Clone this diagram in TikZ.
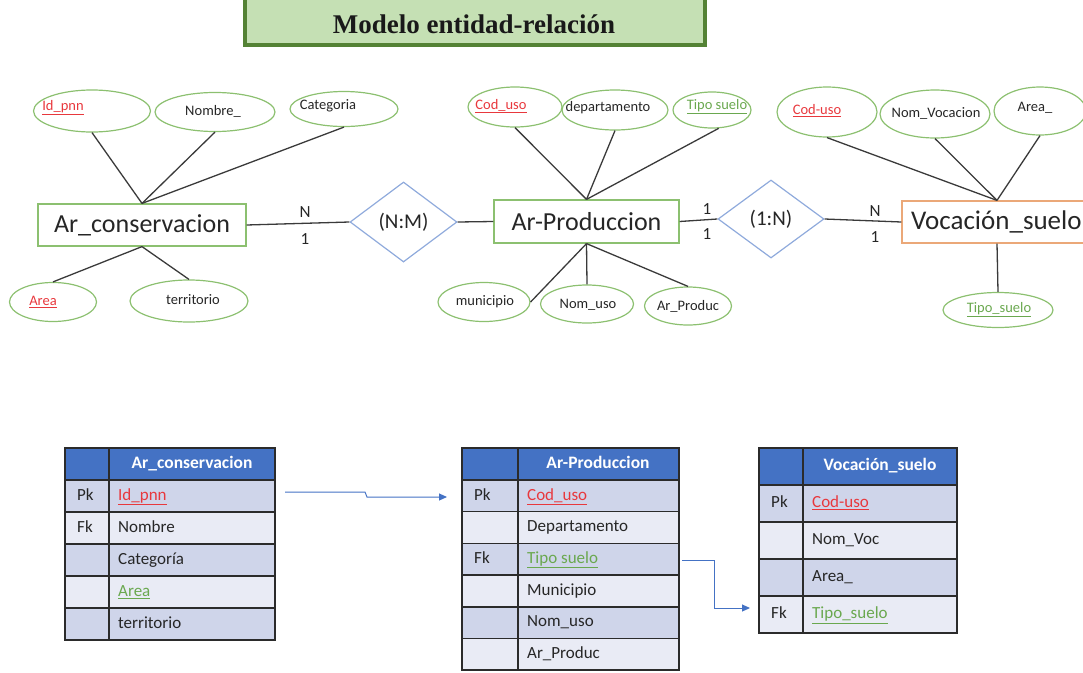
\documentclass[tikz,border=0pt]{standalone}
\usepackage{fontspec}
\setmainfont{Carlito}
\newfontfamily\titlefont{Liberation Serif}
\usetikzlibrary{shapes.geometric,arrows.meta}
\definecolor{attrc}{HTML}{8CC070}
\definecolor{entc}{HTML}{8CC070}
\definecolor{relc}{HTML}{8FAADC}
\definecolor{orc}{HTML}{EBA878}
\definecolor{linec}{HTML}{3A3A3A}
\definecolor{redt}{HTML}{E8383D}
\definecolor{greent}{HTML}{6AA84F}
\definecolor{hdr}{HTML}{4472C4}
\definecolor{rowd}{HTML}{CFD5EA}
\definecolor{rowl}{HTML}{E9EBF5}
\definecolor{tabc}{HTML}{2B2B2B}
\definecolor{arrc}{HTML}{4472C4}
\definecolor{titfill}{HTML}{C5E0B4}
\definecolor{titdraw}{HTML}{548235}
\newcommand{\rk}[1]{\textcolor{redt}{\underline{#1}}}
\newcommand{\gk}[1]{\textcolor{greent}{\underline{#1}}}
\newcommand{\trow}[9]{%
  \path[cellbox, fill=#7] (#2,#5) rectangle (#3,#5+#6);
  \path[cellbox, fill=#7] (#3,#5) rectangle (#4,#5+#6);
  \node[ctext] (#1k) at (#2+12,#5+#6/2) {#8};
  \node[ctext] (#1f) at (#3+9,#5+#6/2) {#9};
}
\begin{document}
\begin{tikzpicture}[x=1pt,y=-1pt,
  attr/.style={ellipse, draw=attrc, line width=1.2pt, inner sep=0pt},
  atxt/.style={font=\fontsize{14.5}{16}\selectfont, text=black!85, inner sep=0pt},
  ent/.style={rectangle, draw=entc, line width=1.2pt, inner sep=0pt, font=\fontsize{26}{30}\selectfont, text=black!85},
  rel/.style={diamond, draw=relc, line width=1.2pt, inner sep=0pt, font=\fontsize{21}{24}\selectfont, text=black!85},
  link/.style={draw=linec, line width=1.3pt},
  card/.style={font=\fontsize{17}{19}\selectfont, inner sep=0pt, text=black!85},
  cellbox/.style={draw=tabc, line width=1.5pt},
  ctext/.style={font=\fontsize{17}{19}\selectfont, inner sep=0pt, anchor=west, text height=12pt, text depth=3.5pt, text=black!85},
  htext/.style={font=\fontsize{17.5}{19}\selectfont\bfseries, inner sep=0pt, text=white, text height=12pt, text depth=3.5pt},
  fkarrow/.style={draw=arrc, line width=1pt, -{Triangle[length=8pt,width=7pt]}}
]
\useasboundingbox (0,0) rectangle (1083,672);
\clip (0,0) rectangle (1083,672);

% title
\node[draw=titdraw, fill=titfill, line width=3.5pt, minimum width=460pt, minimum height=52pt, inner sep=0pt] (titlebox) at (475,19) {};
\node[font=\titlefont\bfseries\fontsize{27}{30}\selectfont, text=black!90, inner sep=0pt] (title) at (474,24) {Modelo entidad-relación};

% entities
\node[ent, minimum width=208pt, minimum height=42pt] (arcons) at (142,225) {Ar\_conservacion};
\node[ent, minimum width=185pt, minimum height=43pt] (arprod) at (586.5,221.5) {Ar-Produccion};
\node[ent, draw=orc, minimum width=190pt, minimum height=42pt, text width=172pt, align=left, font=\fontsize{27}{30}\selectfont] (voc) at (997,222) {Vocación\_suelo};

% relations
\node[rel, minimum width=107pt, minimum height=80pt] (nm) at (403.5,222) {(N:M)};
\node[rel, minimum width=106pt, minimum height=78pt] (on) at (771,219) {(1:N)};

\draw[link] (arcons.east) -- (nm.west);
\draw[link] (nm.east) -- (arprod.west);
\draw[link] (arprod.east) -- (on.west);
\draw[link] (on.east) -- (voc.west);

\node[card] (c1) at (305,212) {N};
\node[card] (c2) at (305,239) {1};
\node[card] (c3) at (707,209) {1};
\node[card] (c4) at (707,234) {1};
\node[card] (c5) at (875,211) {N};
\node[card] (c6) at (875,237) {1};

% attributes Ar_conservacion
\node[attr, minimum width=117pt, minimum height=42pt] (idpnn) at (92,111) {};
\node[atxt] (idpnnt) at (63,108) {\rk{Id\_pnn}};
\node[attr, minimum width=120pt, minimum height=39pt] (nombre) at (215,112) {};
\node[atxt] (nombret) at (213,111) {Nombre\_};
\node[attr, minimum width=108pt, minimum height=35pt] (cat) at (344,109) {};
\node[atxt] (catt) at (328,106) {Categoria};
\node[attr, minimum width=87pt, minimum height=39pt] (area) at (53,302) {};
\node[atxt] (areat) at (43,302) {\rk{Area}};
\node[attr, minimum width=118pt, minimum height=42pt] (terr) at (189,301) {};
\node[atxt] (terrt) at (193,300) {territorio};
\draw[link] (idpnn.south) -- (arcons.north);
\draw[link] (nombre.south) -- (arcons.north);
\draw[link] (cat.south) -- (arcons.north);
\draw[link] (arcons.south) -- (area.north);
\draw[link] (arcons.south) -- (terr.north);

% attributes Ar-Produccion
\node[attr, minimum width=94pt, minimum height=40pt] (coduso) at (515,107) {};
\node[atxt] (codusot) at (501,106) {\rk{Cod\_uso}};
\node[attr, minimum width=106pt, minimum height=40pt] (depto) at (615,110) {};
\node[atxt] (deptot) at (608,108) {departamento};
\node[attr, minimum width=78pt, minimum height=36pt] (tipo) at (712,110) {};
\node[atxt] (tipot) at (717,107) {\gk{Tipo suelo}};
\node[attr, minimum width=92pt, minimum height=39pt] (mun) at (484,302) {};
\node[atxt] (munt) at (485,302) {municipio};
\node[attr, minimum width=93pt, minimum height=38pt] (nomuso) at (587,304) {};
\node[atxt] (nomusot) at (588,305) {Nom\_uso};
\node[attr, minimum width=87pt, minimum height=38pt] (arproduc) at (688,306) {};
\node[atxt] (arproduct) at (688,306) {Ar\_Produc};
\draw[link] (coduso.south) -- (arprod.north);
\draw[link] (depto.south) -- (arprod.north);
\draw[link] (tipo.-70) -- (arprod.north);
\draw[link] (arprod.south) -- (mun.east);
\draw[link] (arprod.south) -- (nomuso.north);
\draw[link] (arprod.south) -- (arproduc.north);

% attributes Vocacion_suelo
\node[attr, minimum width=100pt, minimum height=50pt] (codusov) at (827,112) {};
\node[atxt] (codusovt) at (817,111) {\rk{Cod-uso}};
\node[attr, minimum width=110pt, minimum height=48pt] (nomvoc) at (935,114) {};
\node[atxt] (nomvoct) at (936,113) {Nom\_Vocacion};
\node[attr, minimum width=92pt, minimum height=48pt] (areav) at (1040,111) {};
\node[atxt] (areavt) at (1035,108) {Area\_};
\node[attr, minimum width=110pt, minimum height=35pt] (tiposv) at (998,310) {};
\node[atxt] (tiposvt) at (999,310) {\gk{Tipo\_suelo}};
\draw[link] (codusov.south) -- (voc.north);
\draw[link] (nomvoc.south) -- (voc.north);
\draw[link] (areav.south) -- (voc.north);
\draw[link] (voc.south) -- (tiposv.north);

% table 1
\path[cellbox, fill=hdr] (65,448) rectangle (109,480);
\path[cellbox, fill=hdr] (109,448) rectangle (275,480);
\node[htext] (t1h) at (192,464) {Ar\_conservacion};
\trow{t1a}{65}{109}{275}{480}{32}{rowd}{Pk}{\rk{Id\_pnn}}
\trow{t1b}{65}{109}{275}{512}{32}{rowl}{Fk}{Nombre}
\trow{t1c}{65}{109}{275}{544}{32}{rowd}{}{Categoría}
\trow{t1d}{65}{109}{275}{576}{32}{rowl}{}{\gk{Area}}
\trow{t1e}{65}{109}{275}{608}{32}{rowd}{}{territorio}

% table 2
\path[cellbox, fill=hdr] (462,448) rectangle (518,480);
\path[cellbox, fill=hdr] (518,448) rectangle (679,480);
\node[htext] (t2h) at (598,464) {Ar-Produccion};
\trow{t2a}{462}{518}{679}{480}{31.7}{rowd}{Pk}{\rk{Cod\_uso}}
\trow{t2b}{462}{518}{679}{511.7}{31.7}{rowl}{}{Departamento}
\trow{t2c}{462}{518}{679}{543.4}{31.7}{rowd}{Fk}{\gk{Tipo suelo}}
\trow{t2d}{462}{518}{679}{575.1}{31.7}{rowl}{}{Municipio}
\trow{t2e}{462}{518}{679}{606.8}{31.7}{rowd}{}{Nom\_uso}
\trow{t2f}{462}{518}{679}{638.5}{31.7}{rowl}{}{Ar\_Produc}

% table 3
\path[cellbox, fill=hdr] (759,448) rectangle (803,485);
\path[cellbox, fill=hdr] (803,448) rectangle (957,485);
\node[htext] (t3h) at (880,466) {Vocación\_suelo};
\trow{t3a}{759}{803}{957}{485}{37}{rowd}{Pk}{\rk{Cod-uso}}
\trow{t3b}{759}{803}{957}{522}{37}{rowl}{}{Nom\_Voc}
\trow{t3c}{759}{803}{957}{559}{37}{rowd}{}{Area\_}
\trow{t3d}{759}{803}{957}{596}{37}{rowl}{Fk}{\gk{Tipo\_suelo}}

% foreign key arrows
\coordinate (a1s) at (285,492);
\coordinate (a1e) at (447,497);
\draw[fkarrow] (a1s) -- (365,492) -- (367,497) -- (a1e);
\coordinate (a2s) at (682,560);
\coordinate (a2e) at (750,608);
\draw[fkarrow] (a2s) -- (714,560) -- (714,608) -- (a2e);
\end{tikzpicture}
\end{document}
